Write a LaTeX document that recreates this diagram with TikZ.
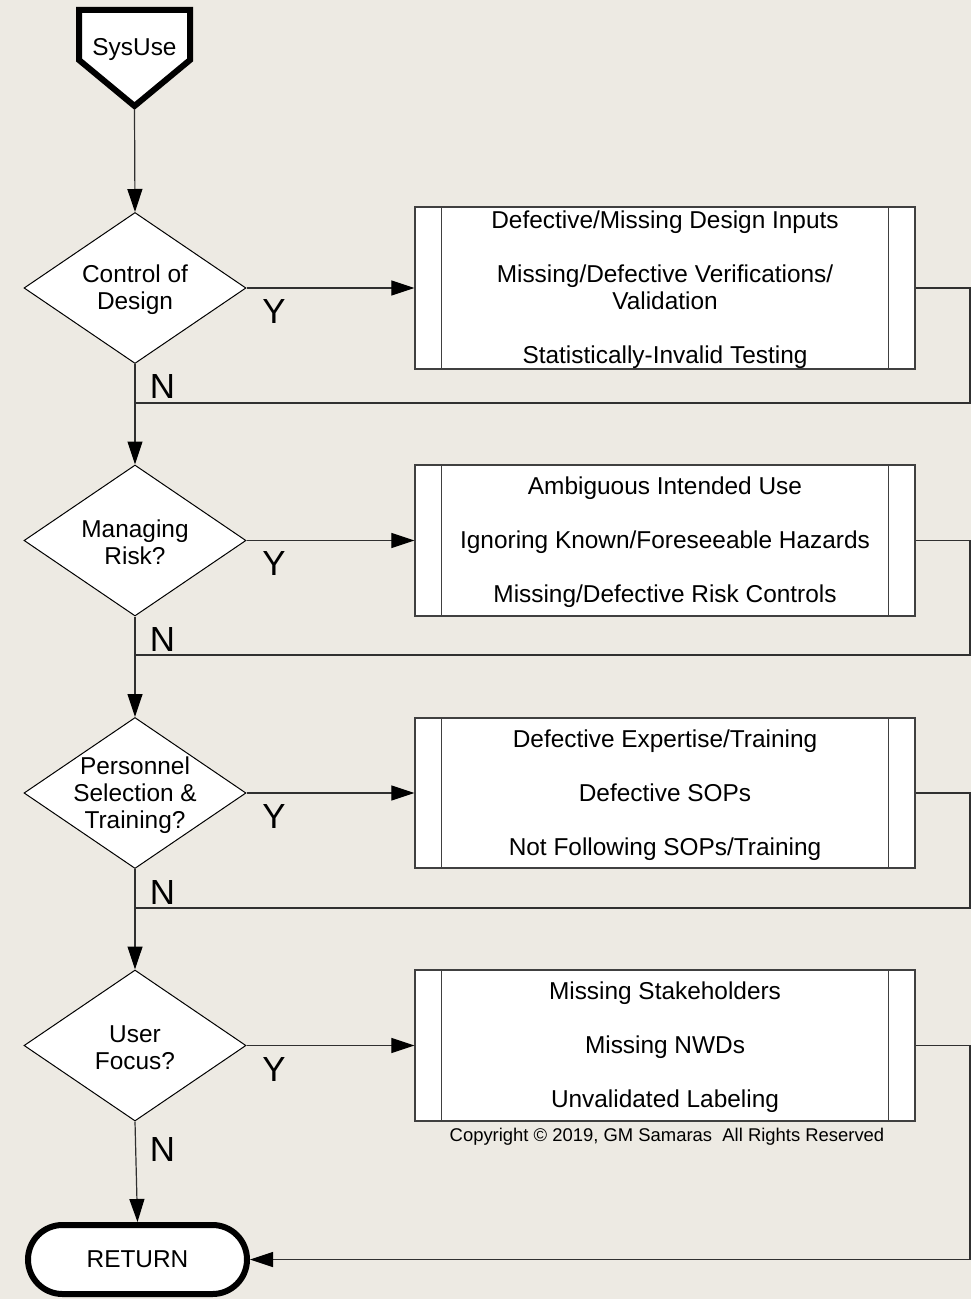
\documentclass[tikz,border=0pt]{standalone}
\usepackage{fontspec}
\setmainfont{Liberation Sans}
\usetikzlibrary{shapes.geometric,shapes.misc,arrows.meta}
\definecolor{paper}{HTML}{EDEAE3}
\definecolor{wire}{HTML}{303030}
\definecolor{frame}{HTML}{404040}
\begin{document}
\begin{tikzpicture}[x=1bp,y=-1bp,
  every node/.style={font=\fontsize{24.5}{27}\selectfont},
  decision/.style={diamond, draw=black, fill=white, line width=1bp,
    minimum width=222bp, minimum height=151bp, inner sep=0pt, aspect=1.47},
  caption/.style={align=center, inner sep=0pt, yshift=-2bp},
  process/.style={rectangle, draw=frame, fill=white, line width=1.3bp,
    minimum width=500bp, inner sep=0pt},
  terminal/.style={rounded rectangle, draw=black, fill=white, line width=6bp,
    minimum width=219bp, minimum height=69bp, inner sep=0pt},
  yn/.style={font=\fontsize{35}{35}\selectfont, inner sep=0pt},
  flow/.style={draw=wire, line width=1.2bp},
  arr/.style={-{Triangle[length=23bp,width=15bp,color=black]}}]

% page background
\fill[paper] (0,0) rectangle (971,1299);
\useasboundingbox (0,0) rectangle (971,1299);

% off-page entry marker
\draw[line width=6bp, fill=white, line join=miter]
  (79,10) -- (190,10) -- (190,60) -- (134.5,106) -- (79,60) -- cycle;
\node[caption] (sys) at (134.5,48) {SysUse};
\coordinate (systip) at (134.5,110);

% decisions
\node[decision] (d1) at (135,288) {};
\node[caption] (t1) at (d1) {Control of\\Design};
\node[decision] (d2) at (135,540.5) {};
\node[caption] (t2) at (d2) {Managing\\Risk?};
\node[decision] (d3) at (135,793) {};
\node[caption] (t3) at (d3) {Personnel\\Selection \&\\Training?};
\node[decision] (d4) at (135,1045.5) {};
\node[caption] (t4) at (d4) {User\\Focus?};

% predefined processes
\node[process, minimum height=162bp] (b1) at (665,288) {};
\node[process, minimum height=151bp] (b2) at (665,540.5) {};
\node[process, minimum height=150bp] (b3) at (665,793) {};
\node[process, minimum height=151bp] (b4) at (665,1045.5) {};
\foreach \b in {b1,b2,b3,b4}{
  \draw[frame, line width=1.3bp] ([xshift=27bp]\b.north west) -- ([xshift=27bp]\b.south west);
  \draw[frame, line width=1.3bp] ([xshift=-27bp]\b.north east) -- ([xshift=-27bp]\b.south east);
}
\node[caption] (p1) at (b1)
  {Defective/Missing Design Inputs\\[27bp]Missing/Defective Verifications/\\Validation\\[27bp]Statistically-Invalid Testing};
\node[caption] (p2) at (b2)
  {Ambiguous Intended Use\\[27bp]Ignoring Known/Foreseeable Hazards\\[27bp]Missing/Defective Risk Controls};
\node[caption] (p3) at (b3)
  {Defective Expertise/Training\\[27bp]Defective SOPs\\[27bp]Not Following SOPs/Training};
\node[caption] (p4) at (b4)
  {Missing Stakeholders\\[27bp]Missing NWDs\\[27bp]Unvalidated Labeling};

% return terminal
\node[terminal] (ret) at (137.5,1259.5) {RETURN};

\node[font=\fontsize{18.5}{20}\selectfont, inner sep=0pt, anchor=base] (copy) at (667,1141)
  {Copyright © 2019, GM Samaras\ \ All Rights Reserved};

% junctions on the main line and on the right edge
\coordinate (j1) at (135,403);
\coordinate (j2) at (135,655);
\coordinate (j3) at (135,908);
\coordinate (r1) at (970,403);
\coordinate (r2) at (970,655);
\coordinate (r3) at (970,908);
\coordinate (r4) at (970,1259.5);

% main flow
\draw[flow,arr] (systip) -- (d1.north);
\draw[flow,arr] (d1.south) -- (d2.north);
\draw[flow,arr] (d2.south) -- (d3.north);
\draw[flow,arr] (d3.south) -- (d4.north);
\draw[flow,arr] (d4.south) -- (ret.north);

% yes branches
\draw[flow,arr] (d1.east) -- (b1.west);
\draw[flow,arr] (d2.east) -- (b2.west);
\draw[flow,arr] (d3.east) -- (b3.west);
\draw[flow,arr] (d4.east) -- (b4.west);

% returns from the processes
\draw[flow] (b1.east) -| (r1) -- (j1);
\draw[flow] (b2.east) -| (r2) -- (j2);
\draw[flow] (b3.east) -| (r3) -- (j3);
\draw[flow,arr] (b4.east) -| (r4) -- (ret.east);

% branch labels
\node[yn] (y1) at (274,311.5) {Y};
\node[yn] (y2) at (274,564) {Y};
\node[yn] (y3) at (274,816.5) {Y};
\node[yn] (y4) at (274,1069) {Y};
\node[yn] (n1) at (162.5,386.5) {N};
\node[yn] (n2) at (162.5,639.5) {N};
\node[yn] (n3) at (162.5,892) {N};
\node[yn] (n4) at (162.5,1149.5) {N};
\end{tikzpicture}
\end{document}
